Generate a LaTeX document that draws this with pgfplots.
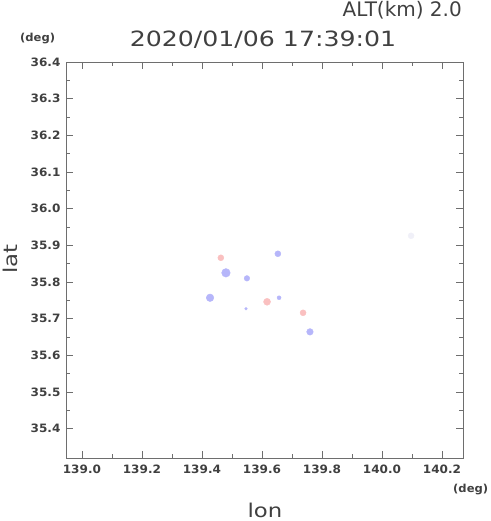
\documentclass[border=0pt]{standalone}
\usepackage{pgfplots}
\pgfplotsset{compat=1.18}
\usepackage{fontspec}
\setmainfont{DejaVu Sans}
\newfontfamily\tfont[FakeStretch=1.2]{DejaVu Sans}
\newfontfamily\afont[FakeStretch=1.0]{DejaVu Sans}
\newfontfamily\tkfont[FakeStretch=1.05]{DejaVu Sans Bold}
\definecolor{txt}{RGB}{64,64,64}
\definecolor{axc}{RGB}{110,110,110}
\definecolor{redb}{RGB}{250,192,192}
\definecolor{blueb}{RGB}{182,182,250}
\definecolor{faint}{RGB}{240,240,248}
\pgfplotstableread{
x y r
139.463 35.866 3.0
139.617 35.746 3.5
139.737 35.716 3.0
}\redtab
\pgfplotstableread{
x y r
139.653 35.877 3.0
139.480 35.825 4.3
139.550 35.810 2.8
139.427 35.757 3.8
139.657 35.757 2.0
139.547 35.727 1.4
139.760 35.664 3.3
}\bluetab
\pgfplotstableread{
x y r
140.097 35.926 3.0
}\fainttab
\begin{document}
\begin{tikzpicture}[x=1pt,y=1pt]
\path[use as bounding box] (0,0) rectangle (490,521);
\begin{axis}[
  at={(66pt,63pt)}, anchor=south west, scale only axis,
  width=397pt, height=396pt,
  xmin=138.947, xmax=140.27, ymin=35.32, ymax=36.4,
  xtick={139.0,139.2,139.4,139.6,139.8,140.0,140.2},
  ytick={35.4,35.5,35.6,35.7,35.8,35.9,36.0,36.1,36.2,36.3,36.4},
  minor x tick num=1, minor y tick num=1,
  tick align=inside, major tick length=7pt, minor tick length=4pt,
  axis line style={axc, line width=0.9pt},
  tick style={axc, line width=0.8pt},
  /pgf/number format/assume math mode=true,
  xticklabel style={/pgf/number format/.cd, fixed, fixed zerofill, precision=1},
  yticklabel style={/pgf/number format/.cd, fixed, fixed zerofill, precision=1},
  ticklabel style={font=\tkfont\fontsize{11.5}{12}\selectfont, text=txt},
  xticklabel shift=3pt, yticklabel shift=2pt,
  clip=true,
]
\addplot[only marks, mark=*, color=faint, scatter,
  scatter/use mapped color={draw=faint, fill=faint},
  visualization depends on={\thisrow{r}\as\rr},
  scatter/@pre marker code/.append style={/tikz/mark size=\rr}]
  table[x=x,y=y] {\fainttab};
\addplot[only marks, mark=*, color=redb, scatter,
  scatter/use mapped color={draw=redb, fill=redb},
  visualization depends on={\thisrow{r}\as\rr},
  scatter/@pre marker code/.append style={/tikz/mark size=\rr}]
  table[x=x,y=y] {\redtab};
\addplot[only marks, mark=*, color=blueb, scatter,
  scatter/use mapped color={draw=blueb, fill=blueb},
  visualization depends on={\thisrow{r}\as\rr},
  scatter/@pre marker code/.append style={/tikz/mark size=\rr}]
  table[x=x,y=y] {\bluetab};
\end{axis}
\node[anchor=base, text=txt, inner sep=0] at (263,474) {\tfont\fontsize{21}{21}\selectfont 2020/01/06 17:39:01};
\node[anchor=base east, text=txt, inner sep=0] at (462,504) {\afont\fontsize{20}{20}\selectfont ALT(km) 2.0};
\node[anchor=base west, text=txt, inner sep=0] at (20,479) {\tkfont\fontsize{11}{11}\selectfont (deg)};
\node[anchor=base west, text=txt, inner sep=0] at (453,28) {\tkfont\fontsize{11}{11}\selectfont (deg)};
\node[anchor=base, text=txt, inner sep=0] at (265,4) {\tfont\fontsize{19}{19}\selectfont lon};
\node[anchor=base, rotate=90, text=txt, inner sep=0] at (17,262) {\tfont\fontsize{19}{19}\selectfont lat};
\end{tikzpicture}
\end{document}
